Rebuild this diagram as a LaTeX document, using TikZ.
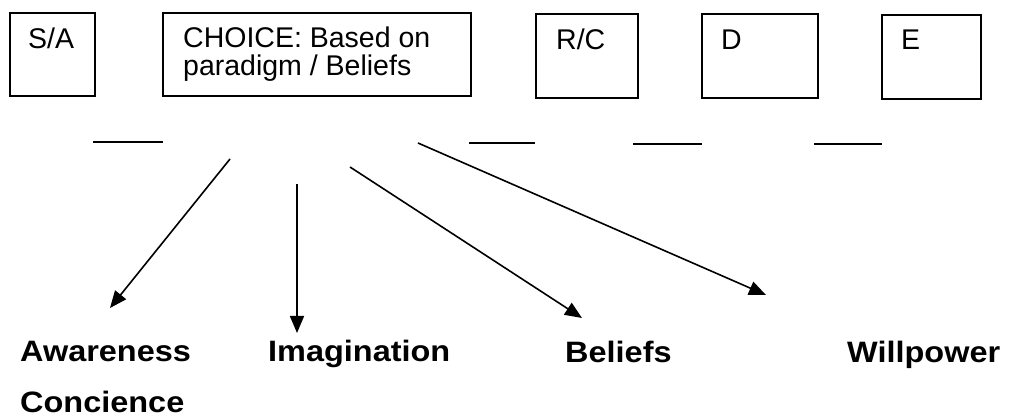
\documentclass[tikz,border=0pt]{standalone}
\usepackage{fontspec}
\setmainfont{Liberation Sans}
\newfontfamily\qualityfont{Liberation Sans}[FakeStretch=1.1]
\usetikzlibrary{arrows.meta,positioning}

\begin{document}
\begin{tikzpicture}[x=1pt,y=-1pt,
    stepbox/.style={draw,line width=1.8pt,inner sep=0pt,anchor=north west},
    boxtext/.style={anchor=base west,inner sep=0pt,font=\fontsize{28.5}{32}\selectfont},
    quality/.style={anchor=base west,inner sep=0pt,font=\fontsize{29.5}{34}\qualityfont\bfseries},
    blank/.style={line width=2.2pt},
    pointer/.style={line width=1.6pt,-{Triangle[length=17pt,width=14pt]}}]

  \useasboundingbox (0,0) rectangle (1028,419);

  % Boxes for the steps
  \node[stepbox,minimum width=85pt,minimum height=83pt] (sa) at (9,12) {};
  \node[stepbox,minimum width=308pt,minimum height=83pt] (choice) at (162,12) {};
  \node[stepbox,minimum width=102pt,minimum height=84pt] (rc) at (535,13) {};
  \node[stepbox,minimum width=116pt,minimum height=84pt] (d) at (701,13) {};
  \node[stepbox,minimum width=99pt,minimum height=84pt] (e) at (881,14) {};

  % Texts in the boxes
  \node[boxtext] (sa-text) at ([shift={(19,37)}]sa.north west) {S/A};
  \node[boxtext] (choice-a) at ([shift={(21,36)}]choice.north west) {CHOICE: Based on};
  \node[boxtext] (choice-b) at ([shift={(21,64)}]choice.north west) {paradigm / Beliefs};
  \node[boxtext] (rc-text) at ([shift={(21,37)}]rc.north west) {R/C};
  \node[boxtext] (d-text) at ([shift={(20,37)}]d.north west) {D};
  \node[boxtext] (e-text) at ([shift={(20,36)}]e.north west) {E};

  % Blanks between the boxes
  \coordinate (b1a) at (93,142);  \coordinate (b1b) at (163,142);
  \coordinate (b2a) at (469,143); \coordinate (b2b) at (535,143);
  \coordinate (b3a) at (633,144); \coordinate (b3b) at (702,144);
  \coordinate (b4a) at (814,144); \coordinate (b4b) at (882,144);
  \draw[blank] (b1a) -- (b1b);
  \draw[blank] (b2a) -- (b2b);
  \draw[blank] (b3a) -- (b3b);
  \draw[blank] (b4a) -- (b4b);

  % The four qualities
  \node[quality] (awareness) at (20,362) {Awareness};
  \node[quality] (concience) at (20,413) {Concience};
  \node[quality] (imagination) at (268,362) {Imagination};
  \node[quality] (beliefs) at (565,363) {Beliefs};
  \node[quality] (willpower) at (847,363) {Willpower};

  % Arrows from the choice
  \coordinate (aw-from) at (230,159);  \coordinate (aw-tip) at (110,308);
  \coordinate (im-from) at (297,184);  \coordinate (im-tip) at (297,333);
  \coordinate (be-from) at (350,167);  \coordinate (be-tip) at (582,318);
  \coordinate (wi-from) at (418,143);  \coordinate (wi-tip) at (766,295);
  \draw[pointer] (aw-from) -- (aw-tip);
  \draw[pointer] (im-from) -- (im-tip);
  \draw[pointer] (be-from) -- (be-tip);
  \draw[pointer] (wi-from) -- (wi-tip);
\end{tikzpicture}
\end{document}
